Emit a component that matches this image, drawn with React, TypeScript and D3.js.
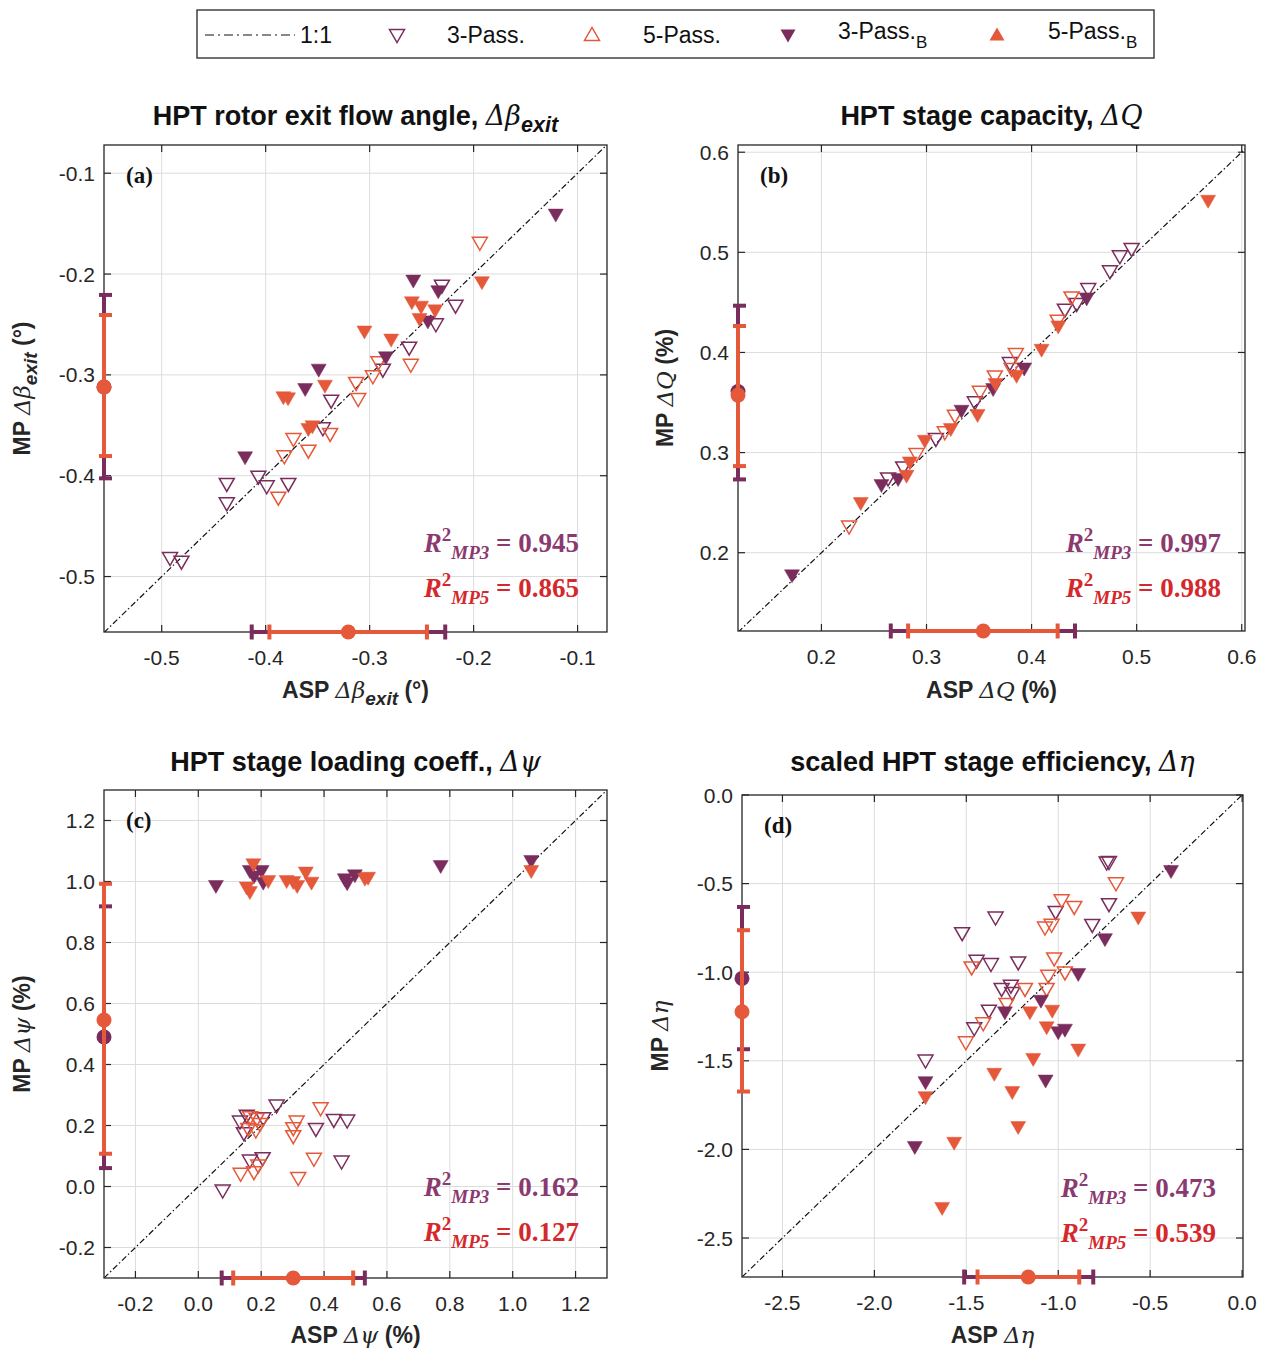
import React from "react";
import * as d3 from "d3";

type P = [number, number];

// ---------- DATA ----------
// Panel (a): rotor exit flow angle
const aOpen3: P[] = [[-0.2305,-0.2125],[-0.2174,-0.2323],[-0.2363,-0.2508],[-0.262,-0.274],[-0.2873,-0.2958],[-0.337,-0.3266],[-0.345,-0.354],[-0.407,-0.402],[-0.4374,-0.4092],[-0.399,-0.4115],[-0.3782,-0.4092],[-0.4374,-0.4284],[-0.492,-0.4827],[-0.481,-0.4863]];
const aOpen5: P[] = [[-0.194,-0.170],[-0.2915,-0.2885],[-0.2604,-0.291],[-0.2969,-0.3024],[-0.313,-0.309],[-0.311,-0.325],[-0.338,-0.3596],[-0.3733,-0.3646],[-0.3589,-0.3762],[-0.382,-0.3818],[-0.3878,-0.4228]];
const aFill3: P[] = [[-0.121,-0.142],[-0.258,-0.2075],[-0.234,-0.218],[-0.244,-0.248],[-0.2844,-0.2835],[-0.349,-0.2958],[-0.362,-0.315],[-0.4198,-0.3827]];
const aFill5: P[] = [[-0.192,-0.209],[-0.2594,-0.229],[-0.2505,-0.2333],[-0.237,-0.237],[-0.252,-0.2455],[-0.305,-0.258],[-0.2793,-0.266],[-0.343,-0.3117],[-0.383,-0.3232],[-0.3785,-0.3242],[-0.3589,-0.3547],[-0.355,-0.352]];
const aXBar3 = [-0.4134, -0.3205, -0.2273];
const aXBar5 = [-0.3964, -0.3205, -0.2449];
const aYBar3 = [-0.4026, -0.312, -0.2207];
const aYBar5 = [-0.3805, -0.312, -0.2406];
const aR2 = ["0.945", "0.865"];
const aTicks = [-0.5, -0.4, -0.3, -0.2, -0.1];

// Panel (b): stage capacity
const bOpen3: P[] = [[0.4952,0.5023],[0.484,0.495],[0.4746,0.48],[0.4539,0.4623],[0.4429,0.4474],[0.4317,0.4417],[0.3793,0.3884],[0.346,0.3492],[0.3089,0.3125],[0.2778,0.2842],[0.2634,0.2732]];
const bOpen5: P[] = [[0.438,0.454],[0.4248,0.4307],[0.385,0.3974],[0.381,0.3824],[0.365,0.375],[0.3508,0.3597],[0.327,0.3358],[0.3174,0.3192],[0.2905,0.2975],[0.2263,0.2251]];
const bFill3: P[] = [[0.4524,0.453],[0.393,0.383],[0.3634,0.3624],[0.3333,0.3408],[0.273,0.2725],[0.2571,0.2665],[0.172,0.1764]];
const bFill5: P[] = [[0.568,0.5505],[0.4254,0.425],[0.4095,0.4017],[0.3857,0.3757],[0.3657,0.3674],[0.3486,0.3365],[0.3231,0.3225],[0.2984,0.3108],[0.2841,0.2892],[0.281,0.2758],[0.2374,0.2486]];
const bXBar3 = [0.266, 0.354, 0.4413];
const bXBar5 = [0.2825, 0.354, 0.4248];
const bYBar3 = [0.2732, 0.361, 0.4467];
const bYBar5 = [0.2865, 0.3574, 0.4264];
const bR2 = ["0.997", "0.988"];
const bTicks = [0.2, 0.3, 0.4, 0.5, 0.6];

// Panel (c): stage loading coefficient
const cOpen3: P[] = [[0.249,0.262],[0.154,0.229],[0.1325,0.2095],[0.2066,0.2206],[0.145,0.1715],[0.374,0.1856],[0.431,0.215],[0.4735,0.2128],[0.164,0.0818],[0.2046,0.0897],[0.4557,0.0786],[0.0775,-0.0164]];
const cOpen5: P[] = [[0.389,0.253],[0.165,0.224],[0.1855,0.2183],[0.196,0.202],[0.159,0.1856],[0.183,0.18],[0.3127,0.2095],[0.302,0.188],[0.302,0.1617],[0.1907,0.0655],[0.177,0.0438],[0.1347,0.0383],[0.3677,0.0874],[0.3178,0.0242]];
const cFill3: P[] = [[0.056,0.982],[0.164,1.031],[0.2015,1.031],[0.177,1.0128],[0.2066,0.993],[0.466,1.004],[0.4735,0.991],[0.498,1.017],[0.771,1.0475],[1.059,1.064]];
const cFill5: P[] = [[0.175,1.053],[0.154,0.977],[0.164,0.962],[0.2225,0.998],[0.281,0.998],[0.302,0.995],[0.3146,0.982],[0.342,1.026],[0.36,0.993],[0.53,1.006],[0.54,1.009],[1.059,1.031]];
const cXBar3 = [0.0744, 0.302, 0.5297];
const cXBar5 = [0.111, 0.302, 0.4926];
const cYBar3 = [0.0603, 0.49, 0.9185];
const cYBar5 = [0.1074, 0.5457, 0.9925];
const cR2 = ["0.162", "0.127"];
const cTicks = [-0.2, 0.0, 0.2, 0.4, 0.6, 0.8, 1.0, 1.2];

// Panel (d): scaled stage efficiency
const dOpen3: P[] = [[-0.7366,-0.387],[-0.724,-0.384],[-0.724,-0.622],[-1.014,-0.6655],[-0.815,-0.7387],[-1.341,-0.697],[-1.5226,-0.7855],[-1.444,-0.9414],[-1.366,-0.96],[-1.2177,-0.9505],[-1.308,-1.1],[-1.2575,-1.082],[-1.25,-1.123],[-1.377,-1.223],[-1.457,-1.322],[-1.722,-1.5045]];
const dOpen5: P[] = [[-0.686,-0.504],[-0.9815,-0.5997],[-0.913,-0.637],[-1.072,-0.7535],[-1.036,-0.7385],[-1.022,-0.928],[-1.471,-0.9786],[-0.9635,-1.007],[-1.054,-1.026],[-1.181,-1.1],[-1.063,-1.1],[-1.281,-1.185],[-1.408,-1.294],[-1.5025,-1.401]];
const dFill3: P[] = [[-0.3865,-0.4347],[-0.7458,-0.819],[-0.891,-1.016],[-1.094,-1.1666],[-1.29,-1.232],[-1.0,-1.3446],[-0.9635,-1.33],[-1.0686,-1.617],[-1.722,-1.626],[-1.78,-1.992]];
const dFill5: P[] = [[-0.5645,-0.697],[-1.154,-1.232],[-1.0327,-1.223],[-1.063,-1.3165],[-0.891,-1.4425],[-1.136,-1.495],[-1.348,-1.579],[-1.25,-1.682],[-1.722,-1.7106],[-1.2177,-1.8795],[-1.566,-1.968],[-1.6315,-2.3356]];
const dXBar3 = [-1.5117, -1.163, -0.8095];
const dXBar5 = [-1.4388, -1.163, -0.8857];
const dYBar3 = [-1.4347, -1.035, -0.6318];
const dYBar5 = [-1.6734, -1.223, -0.763];
const dR2 = ["0.473", "0.539"];
const dTicks = [-2.5, -2.0, -1.5, -1.0, -0.5, 0.0];

const legendLabels = ["1:1", "3-Pass.", "5-Pass.", "3-Pass.", "5-Pass."];

// ---------- STYLE ----------
const PURPLE = "#7a2d5d";
const ORANGE = "#e5583a";
const R2_P = "#8b3a70";
const R2_O = "#d5282c";
const AXIS = "#262626";
const GRID = "#dcdcdc";
const SANS = "'Liberation Sans', Arial, Helvetica, sans-serif";
const SERIF = "'Liberation Serif', 'Times New Roman', serif";

function triPath(up: boolean) {
  const w = 7.5, h = 6.5;
  return up
    ? `M${-w},${h}L${w},${h}L0,${-h}Z`
    : `M${-w},${-h}L${w},${-h}L0,${h}Z`;
}

type PanelProps = {
  id: string;
  label: string;
  left: number; right: number; top: number; bottom: number;
  xDom: [number, number]; yDom: [number, number];
  ticks: number[];
  open3: P[]; open5: P[]; fill3: P[]; fill5: P[];
  xBar3: number[]; xBar5: number[]; yBar3: number[]; yBar5: number[];
  xDot3Visible?: boolean;
  r2: string[];
  r2X: number; r2Y: number;
  title: React.ReactNode;
  titleY: number;
  xLabel: React.ReactNode;
  xLabelY: number;
  yLabel: React.ReactNode;
  yLabelX: number;
};

function Panel(p: PanelProps) {
  const x = d3.scaleLinear().domain(p.xDom).range([p.left, p.right]);
  const y = d3.scaleLinear().domain(p.yDom).range([p.bottom, p.top]);
  const f = d3.format(".1f");
  const fmt = (v: number) => f(v).replace("\u2212", "-");
  const cx = (p.left + p.right) / 2;
  const cy = (p.top + p.bottom) / 2;
  const lo = Math.min(p.xDom[0], p.yDom[0]);
  const hi = Math.max(p.xDom[1], p.yDom[1]);
  const line = d3.line<P>().x((d) => x(d[0])).y((d) => y(d[1]));
  const clipId = `clip-${p.id}`;
  const tickLen = 7;

  const markers = (data: P[], color: string, filled: boolean) =>
    data.map((d, i) => (
      <path
        key={i}
        d={triPath(false)}
        transform={`translate(${x(d[0])},${y(d[1])})`}
        fill={filled ? color : "white"}
        fillOpacity={filled ? 1 : 0}
        stroke={color}
        strokeWidth={filled ? 0.5 : 1.5}
      />
    ));

  const hBar = (b: number[], color: string, dot: boolean) => (
    <g>
      <line x1={x(b[0])} x2={x(b[2])} y1={p.bottom} y2={p.bottom} stroke={color} strokeWidth={4} />
      <line x1={x(b[0])} x2={x(b[0])} y1={p.bottom - 7.5} y2={p.bottom + 7.5} stroke={color} strokeWidth={4} />
      <line x1={x(b[2])} x2={x(b[2])} y1={p.bottom - 7.5} y2={p.bottom + 7.5} stroke={color} strokeWidth={4} />
      {dot && <circle cx={x(b[1])} cy={p.bottom} r={7.5} fill={color} />}
    </g>
  );
  const vBar = (b: number[], color: string) => (
    <g>
      <line y1={y(b[0])} y2={y(b[2])} x1={p.left} x2={p.left} stroke={color} strokeWidth={4} />
      <line y1={y(b[0])} y2={y(b[0])} x1={p.left - 5} x2={p.left + 8} stroke={color} strokeWidth={4} />
      <line y1={y(b[2])} y2={y(b[2])} x1={p.left - 5} x2={p.left + 8} stroke={color} strokeWidth={4} />
      <circle cx={p.left} cy={y(b[1])} r={7.5} fill={color} />
    </g>
  );

  const r2Text = (val: string, sub: string, color: string, yy: number) => (
    <text x={p.r2X} y={yy} textAnchor="end" fontFamily={SERIF} fontWeight="bold" fontSize={27} fill={color}>
      <tspan fontStyle="italic">R</tspan>
      <tspan fontSize={19} dy={-11}>2</tspan>
      <tspan fontSize={19} dy={18} fontStyle="italic">{sub}</tspan>
      <tspan dy={-7}>{" = " + val}</tspan>
    </text>
  );

  return (
    <g>
      <defs>
        <clipPath id={clipId}>
          <rect x={p.left} y={p.top} width={p.right - p.left} height={p.bottom - p.top} />
        </clipPath>
      </defs>
      <rect x={p.left} y={p.top} width={p.right - p.left} height={p.bottom - p.top} fill="white" />
      {/* grid */}
      {p.ticks.map((t) => (
        <g key={"g" + t}>
          {x(t) > p.left + 1 && x(t) < p.right - 1 && (
            <line x1={x(t)} x2={x(t)} y1={p.top} y2={p.bottom} stroke={GRID} strokeWidth={1} />
          )}
          {y(t) > p.top + 1 && y(t) < p.bottom - 1 && (
            <line y1={y(t)} y2={y(t)} x1={p.left} x2={p.right} stroke={GRID} strokeWidth={1} />
          )}
        </g>
      ))}
      {/* 1:1 line */}
      <path
        d={line([[lo, lo], [hi, hi]]) || ""}
        clipPath={`url(#${clipId})`}
        stroke="#111"
        strokeWidth={1.2}
        strokeDasharray="6 2.5 1.5 2.5"
        fill="none"
      />
      {/* box */}
      <rect x={p.left} y={p.top} width={p.right - p.left} height={p.bottom - p.top} fill="none" stroke={AXIS} strokeWidth={1.3} />
      {/* ticks and labels */}
      {p.ticks.map((t) => (
        <g key={"t" + t}>
          <line x1={x(t)} x2={x(t)} y1={p.bottom} y2={p.bottom - tickLen} stroke={AXIS} strokeWidth={1.2} />
          <line x1={x(t)} x2={x(t)} y1={p.top} y2={p.top + tickLen} stroke={AXIS} strokeWidth={1.2} />
          <line y1={y(t)} y2={y(t)} x1={p.left} x2={p.left + tickLen} stroke={AXIS} strokeWidth={1.2} />
          <line y1={y(t)} y2={y(t)} x1={p.right} x2={p.right - tickLen} stroke={AXIS} strokeWidth={1.2} />
          <text x={x(t)} y={p.bottom + 33} textAnchor="middle" fontSize={21} fill={AXIS} fontFamily={SANS}>
            {fmt(t)}
          </text>
          <text x={p.left - 9} y={y(t) + 7.5} textAnchor="end" fontSize={21} fill={AXIS} fontFamily={SANS}>
            {fmt(t)}
          </text>
        </g>
      ))}
      {/* markers */}
      <g>{markers(p.open3, PURPLE, false)}</g>
      <g>{markers(p.open5, ORANGE, false)}</g>
      <g>{markers(p.fill3, PURPLE, true)}</g>
      <g>{markers(p.fill5, ORANGE, true)}</g>
      {/* error bars */}
      {hBar(p.xBar3, PURPLE, !!p.xDot3Visible)}
      {hBar(p.xBar5, ORANGE, true)}
      {vBar(p.yBar3, PURPLE)}
      {vBar(p.yBar5, ORANGE)}
      {/* panel label */}
      <text x={p.left + 22} y={p.top + 38} fontSize={23} fontWeight="bold" fontFamily={SERIF} fill="#111">
        {p.label}
      </text>
      {/* R2 */}
      {r2Text(p.r2[0], "MP3", R2_P, p.r2Y)}
      {r2Text(p.r2[1], "MP5", R2_O, p.r2Y + 45)}
      {/* title */}
      <text x={cx} y={p.titleY} textAnchor="middle" fontFamily={SANS} fontWeight="bold" fontSize={27} fill="#111">
        {p.title}
      </text>
      {/* axis labels */}
      <text x={cx} y={p.xLabelY} textAnchor="middle" fontFamily={SANS} fontWeight="bold" fontSize={23} fill="#262626">
        {p.xLabel}
      </text>
      <text
        transform={`translate(${p.yLabelX},${cy}) rotate(-90)`}
        textAnchor="middle"
        fontFamily={SANS}
        fontWeight="bold"
        fontSize={23}
        fill="#262626"
      >
        {p.yLabel}
      </text>
    </g>
  );
}

const sym = (s: string) => (
  <tspan fontStyle="italic" fontWeight="normal" fontFamily="'DejaVu Serif', serif">{s}</tspan>
);
const subT = (s: string) => (
  <>
    <tspan fontStyle="italic" fontSize="0.8em" dy={7}>{s}</tspan>
    <tspan dy={-7}> </tspan>
  </>
);

function Legend() {
  const yMid = 35;
  return (
    <g fontFamily={SANS} fontSize={23} fill="#111">
      <rect x={197} y={10} width={957} height={48} fill="white" stroke={AXIS} strokeWidth={1.3} />
      <line x1={205} x2={295} y1={yMid} y2={yMid} stroke="#111" strokeWidth={1.2} strokeDasharray="9 4 2 4" />
      <text x={300} y={yMid + 8}>{legendLabels[0]}</text>
      <path d={triPath(false)} transform={`translate(397,${yMid + 1})`} fill="none" stroke={PURPLE} strokeWidth={1.5} />
      <text x={447} y={yMid + 8}>{legendLabels[1]}</text>
      <path d={triPath(true)} transform={`translate(592,${yMid - 1})`} fill="none" stroke={ORANGE} strokeWidth={1.5} />
      <text x={643} y={yMid + 8}>{legendLabels[2]}</text>
      <path d={triPath(false)} transform={`translate(788,${yMid + 1})`} fill={PURPLE} />
      <text x={838} y={yMid + 4}>
        {legendLabels[3]}
        <tspan fontSize={17} dy={9}>B</tspan>
      </text>
      <path d={triPath(true)} transform={`translate(997,${yMid - 1})`} fill={ORANGE} />
      <text x={1048} y={yMid + 4}>
        {legendLabels[4]}
        <tspan fontSize={17} dy={9}>B</tspan>
      </text>
    </g>
  );
}

export default function App() {
  return (
    <svg width={1269} height={1351} style={{ position: "absolute", left: 0, top: 0, background: "white" }}>
      <rect width={1269} height={1351} fill="white" />
      <Legend />
      <Panel
        id="a" label="(a)"
        left={104} right={607} top={145} bottom={632}
        xDom={[-0.5555, -0.0717]} yDom={[-0.555, -0.072]}
        ticks={aTicks}
        open3={aOpen3} open5={aOpen5} fill3={aFill3} fill5={aFill5}
        xBar3={aXBar3} xBar5={aXBar5} yBar3={aYBar3} yBar5={aYBar5}
        r2={aR2} r2X={579} r2Y={552}
        title={<>HPT rotor exit flow angle, {sym("Δβ")}{subT("exit")}</>}
        titleY={125}
        xLabel={<>ASP {sym("Δβ")}<tspan fontStyle="italic" fontSize={19} dy={7}>exit</tspan><tspan dy={-7}> (°)</tspan></>}
        xLabelY={698}
        yLabel={<>MP {sym("Δβ")}<tspan fontStyle="italic" fontSize={19} dy={7}>exit</tspan><tspan dy={-7}> (°)</tspan></>}
        yLabelX={30}
      />
      <Panel
        id="b" label="(b)"
        left={738} right={1245} top={145} bottom={631}
        xDom={[0.1206, 0.6031]} yDom={[0.1218, 0.6072]}
        ticks={bTicks}
        open3={bOpen3} open5={bOpen5} fill3={bFill3} fill5={bFill5}
        xBar3={bXBar3} xBar5={bXBar5} yBar3={bYBar3} yBar5={bYBar5}
        r2={bR2} r2X={1221} r2Y={552}
        title={<>HPT stage capacity, {sym("ΔQ")}</>}
        titleY={125}
        xLabel={<>ASP {sym("ΔQ")} (%)</>}
        xLabelY={698}
        yLabel={<>MP {sym("ΔQ")} (%)</>}
        yLabelX={673}
      />
      <Panel
        id="c" label="(c)"
        left={104} right={607} top={790} bottom={1278}
        xDom={[-0.3, 1.3]} yDom={[-0.3, 1.3]}
        ticks={cTicks}
        open3={cOpen3} open5={cOpen5} fill3={cFill3} fill5={cFill5}
        xBar3={cXBar3} xBar5={cXBar5} yBar3={cYBar3} yBar5={cYBar5}
        r2={cR2} r2X={579} r2Y={1196}
        title={<>HPT stage loading coeff., {sym("Δψ")}</>}
        titleY={771}
        xLabel={<>ASP {sym("Δψ")} (%)</>}
        xLabelY={1343}
        yLabel={<>MP {sym("Δψ")} (%)</>}
        yLabelX={30}
      />
      <Panel
        id="d" label="(d)"
        left={742} right={1243} top={795} bottom={1277}
        xDom={[-2.72, 0.005]} yDom={[-2.72, 0.0]}
        ticks={dTicks}
        open3={dOpen3} open5={dOpen5} fill3={dFill3} fill5={dFill5}
        xBar3={dXBar3} xBar5={dXBar5} yBar3={dYBar3} yBar5={dYBar5}
        r2={dR2} r2X={1216} r2Y={1197}
        title={<>scaled HPT stage efficiency, {sym("Δη")}</>}
        titleY={771}
        xLabel={<>ASP {sym("Δη")}</>}
        xLabelY={1343}
        yLabel={<>MP {sym("Δη")}</>}
        yLabelX={668}
      />
    </svg>
  );
}
